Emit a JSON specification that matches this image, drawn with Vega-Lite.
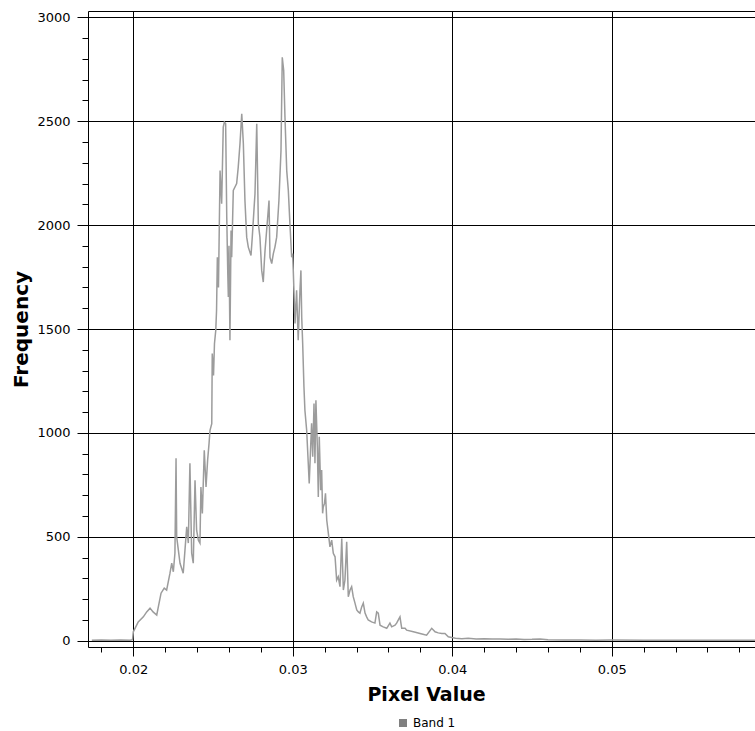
{
  "$schema": "https://vega.github.io/schema/vega-lite/v6.json",
  "autosize": {"type": "none"},
  "width": 667,
  "height": 636,
  "padding": {"left": 88, "top": 11, "right": 0, "bottom": 84},
  "background": "white",
  "config": {
    "view": {"stroke": null},
    "axis": {"labelFont": "DejaVu Sans", "labelFontSize": 13, "labelColor": "#000", "titleFont": "DejaVu Sans", "titleFontWeight": "bold", "titleColor": "#000", "domainColor": "#000", "tickColor": "#000", "gridColor": "#000", "gridWidth": 1, "gridOpacity": 1}
  },
  "data": {"values": [
    {"x": 0.0174, "f": 3}, {"x": 0.0180, "f": 4}, {"x": 0.0186, "f": 3}, {"x": 0.0192, "f": 4}, {"x": 0.0198, "f": 3}, {"x": 0.01995, "f": 5},
    {"x": 0.02000, "f": 43}, {"x": 0.02031, "f": 91}, {"x": 0.02063, "f": 115}, {"x": 0.02084, "f": 139}, {"x": 0.02105, "f": 157},
    {"x": 0.02124, "f": 139}, {"x": 0.02147, "f": 124}, {"x": 0.02157, "f": 163}, {"x": 0.02174, "f": 229}, {"x": 0.02194, "f": 253},
    {"x": 0.02209, "f": 244}, {"x": 0.02230, "f": 325}, {"x": 0.02241, "f": 373}, {"x": 0.02251, "f": 332}, {"x": 0.02261, "f": 421},
    {"x": 0.02268, "f": 878}, {"x": 0.02272, "f": 500}, {"x": 0.02293, "f": 373}, {"x": 0.02313, "f": 325}, {"x": 0.02324, "f": 436},
    {"x": 0.02335, "f": 548}, {"x": 0.02345, "f": 470}, {"x": 0.02355, "f": 854}, {"x": 0.02366, "f": 421}, {"x": 0.02376, "f": 373},
    {"x": 0.02387, "f": 772}, {"x": 0.02397, "f": 532}, {"x": 0.02408, "f": 484}, {"x": 0.02418, "f": 470}, {"x": 0.02424, "f": 740},
    {"x": 0.02433, "f": 613}, {"x": 0.02445, "f": 917}, {"x": 0.02456, "f": 740}, {"x": 0.02466, "f": 869}, {"x": 0.02475, "f": 950},
    {"x": 0.02481, "f": 1012}, {"x": 0.02492, "f": 1045}, {"x": 0.02495, "f": 1382}, {"x": 0.02503, "f": 1276}, {"x": 0.02509, "f": 1430},
    {"x": 0.02517, "f": 1493}, {"x": 0.02522, "f": 1590}, {"x": 0.02527, "f": 1845}, {"x": 0.02534, "f": 1700}, {"x": 0.02544, "f": 2262},
    {"x": 0.02554, "f": 2103}, {"x": 0.02564, "f": 2471}, {"x": 0.02571, "f": 2495}, {"x": 0.02579, "f": 2488}, {"x": 0.02586, "f": 2038},
    {"x": 0.02592, "f": 1782}, {"x": 0.02596, "f": 1654}, {"x": 0.02600, "f": 1900}, {"x": 0.02606, "f": 1446}, {"x": 0.02613, "f": 1974},
    {"x": 0.02617, "f": 1845}, {"x": 0.02627, "f": 2167}, {"x": 0.02648, "f": 2200}, {"x": 0.02658, "f": 2279}, {"x": 0.02669, "f": 2392},
    {"x": 0.02680, "f": 2536}, {"x": 0.02690, "f": 2392}, {"x": 0.02700, "f": 2118}, {"x": 0.02711, "f": 1942}, {"x": 0.02721, "f": 1894},
    {"x": 0.02738, "f": 1854}, {"x": 0.02746, "f": 1942}, {"x": 0.02759, "f": 2103}, {"x": 0.02763, "f": 2151}, {"x": 0.02774, "f": 2488},
    {"x": 0.02780, "f": 2200}, {"x": 0.02784, "f": 2007}, {"x": 0.02794, "f": 1942}, {"x": 0.02805, "f": 1782}, {"x": 0.02815, "f": 1726},
    {"x": 0.02821, "f": 1815}, {"x": 0.02826, "f": 1878}, {"x": 0.02836, "f": 1974}, {"x": 0.02851, "f": 2118}, {"x": 0.02857, "f": 1845},
    {"x": 0.02868, "f": 1815}, {"x": 0.02878, "f": 1863}, {"x": 0.02888, "f": 1894}, {"x": 0.02899, "f": 1942}, {"x": 0.02913, "f": 2118},
    {"x": 0.02926, "f": 2358}, {"x": 0.02934, "f": 2807}, {"x": 0.02943, "f": 2743}, {"x": 0.02951, "f": 2519}, {"x": 0.02962, "f": 2262},
    {"x": 0.02972, "f": 2167}, {"x": 0.02982, "f": 2007}, {"x": 0.02993, "f": 1845}, {"x": 0.02999, "f": 1863}, {"x": 0.03003, "f": 1782},
    {"x": 0.03014, "f": 1527}, {"x": 0.03024, "f": 1686}, {"x": 0.03034, "f": 1446}, {"x": 0.03045, "f": 1686}, {"x": 0.03051, "f": 1782},
    {"x": 0.03056, "f": 1557}, {"x": 0.03062, "f": 1430}, {"x": 0.03070, "f": 1221}, {"x": 0.03076, "f": 1109}, {"x": 0.03087, "f": 1013},
    {"x": 0.03097, "f": 854}, {"x": 0.03103, "f": 757}, {"x": 0.03112, "f": 933}, {"x": 0.03118, "f": 1046}, {"x": 0.03125, "f": 885},
    {"x": 0.03133, "f": 1142}, {"x": 0.03139, "f": 854}, {"x": 0.03145, "f": 1157}, {"x": 0.03154, "f": 933}, {"x": 0.03160, "f": 692},
    {"x": 0.03166, "f": 981}, {"x": 0.03175, "f": 724}, {"x": 0.03181, "f": 821}, {"x": 0.03187, "f": 613}, {"x": 0.03191, "f": 644},
    {"x": 0.03199, "f": 661}, {"x": 0.03205, "f": 709}, {"x": 0.03213, "f": 580}, {"x": 0.03223, "f": 517}, {"x": 0.03233, "f": 452},
    {"x": 0.03244, "f": 484}, {"x": 0.03254, "f": 421}, {"x": 0.03265, "f": 404}, {"x": 0.03275, "f": 292}, {"x": 0.03285, "f": 308},
    {"x": 0.03296, "f": 260}, {"x": 0.03307, "f": 492}, {"x": 0.03317, "f": 244}, {"x": 0.03327, "f": 292}, {"x": 0.03338, "f": 476},
    {"x": 0.03348, "f": 212}, {"x": 0.03359, "f": 244}, {"x": 0.03369, "f": 260}, {"x": 0.03379, "f": 212}, {"x": 0.03390, "f": 181},
    {"x": 0.03401, "f": 148}, {"x": 0.03411, "f": 139}, {"x": 0.03421, "f": 133}, {"x": 0.03432, "f": 163}, {"x": 0.03442, "f": 181},
    {"x": 0.03453, "f": 133}, {"x": 0.03463, "f": 115}, {"x": 0.03473, "f": 100}, {"x": 0.03494, "f": 91}, {"x": 0.03515, "f": 85},
    {"x": 0.03526, "f": 139}, {"x": 0.03536, "f": 133}, {"x": 0.03547, "f": 75}, {"x": 0.03567, "f": 67}, {"x": 0.03589, "f": 60},
    {"x": 0.03609, "f": 85}, {"x": 0.03620, "f": 67}, {"x": 0.03641, "f": 75}, {"x": 0.03651, "f": 85}, {"x": 0.03672, "f": 115},
    {"x": 0.03683, "f": 60}, {"x": 0.03704, "f": 60}, {"x": 0.03714, "f": 51}, {"x": 0.03756, "f": 43}, {"x": 0.03798, "f": 35},
    {"x": 0.03839, "f": 27}, {"x": 0.03871, "f": 60}, {"x": 0.03892, "f": 43}, {"x": 0.03912, "f": 38}, {"x": 0.03934, "f": 35},
    {"x": 0.03954, "f": 35}, {"x": 0.03975, "f": 19}, {"x": 0.03996, "f": 16}, {"x": 0.0402, "f": 12}, {"x": 0.0406, "f": 10},
    {"x": 0.0410, "f": 12}, {"x": 0.0415, "f": 9}, {"x": 0.0420, "f": 10}, {"x": 0.0425, "f": 8}, {"x": 0.0430, "f": 9},
    {"x": 0.0435, "f": 7}, {"x": 0.0440, "f": 8}, {"x": 0.0445, "f": 6}, {"x": 0.0450, "f": 7}, {"x": 0.0455, "f": 9},
    {"x": 0.0460, "f": 5}, {"x": 0.0470, "f": 4}, {"x": 0.0480, "f": 4}, {"x": 0.0490, "f": 3}, {"x": 0.0500, "f": 4},
    {"x": 0.0520, "f": 3}, {"x": 0.0540, "f": 3}, {"x": 0.0560, "f": 3}, {"x": 0.0580, "f": 3}, {"x": 0.0595, "f": 3}
  ]},
  "transform": [{"calculate": "'Band 1'", "as": "band"}],
  "mark": {"type": "line", "strokeWidth": 1.5, "clip": true, "interpolate": "linear"},
  "encoding": {
    "x": {
      "field": "x", "type": "quantitative",
      "scale": {"domain": [0.01716, 0.05898], "nice": false, "zero": false},
      "axis": {
        "title": "Pixel Value", "titleFontSize": 19, "titleBaseline": "alphabetic", "titleY": 53, "titleX": 338,
        "values": [0.018, 0.02, 0.022, 0.024, 0.026, 0.028, 0.03, 0.032, 0.034, 0.036, 0.038, 0.04, 0.042, 0.044, 0.046, 0.048, 0.05, 0.052, 0.054, 0.056, 0.058],
        "format": ".2f",
        "labelExpr": "abs(datum.value * 100 - round(datum.value * 100)) < 1e-6 ? datum.label : ''",
        "labelPadding": 7, "labelFlush": false, "labelOverlap": false,
        "tickSize": {"condition": {"test": "abs(datum.value * 100 - round(datum.value * 100)) < 1e-6", "value": 9}, "value": 5},
        "gridOpacity": {"condition": {"test": "abs(datum.value * 100 - round(datum.value * 100)) < 1e-6", "value": 1}, "value": 0}
      }
    },
    "y": {
      "field": "f", "type": "quantitative",
      "scale": {"domain": [-30, 3030], "nice": false, "zero": false},
      "axis": {
        "title": "Frequency", "titleFontSize": 20, "titleBaseline": "alphabetic", "titleX": -61,
        "values": [0, 100, 200, 300, 400, 500, 600, 700, 800, 900, 1000, 1100, 1200, 1300, 1400, 1500, 1600, 1700, 1800, 1900, 2000, 2100, 2200, 2300, 2400, 2500, 2600, 2700, 2800, 2900, 3000, 3030],
        "labelExpr": "datum.value % 500 === 0 ? datum.label : ''",
        "format": "d",
        "labelPadding": 7, "labelFlush": false, "labelOverlap": false,
        "tickSize": {"condition": {"test": "datum.value % 500 === 0", "value": 11}, "value": 6},
        "tickOpacity": {"condition": {"test": "datum.value === 3030", "value": 0}, "value": 1},
        "gridOpacity": {"condition": {"test": "datum.value % 500 === 0 || datum.value === 3030", "value": 1}, "value": 0}
      }
    },
    "color": {
      "field": "band", "type": "nominal",
      "scale": {"range": ["#9c9c9c"]},
      "legend": {"title": null, "orient": "none", "legendX": 309, "legendY": 706, "symbolType": "square", "symbolSize": 64, "symbolFillColor": "#808080", "symbolStrokeColor": "#808080", "symbolStrokeWidth": 0, "labelFont": "DejaVu Sans", "labelFontSize": 12, "labelColor": "#000", "padding": 0}
    }
  }
}
